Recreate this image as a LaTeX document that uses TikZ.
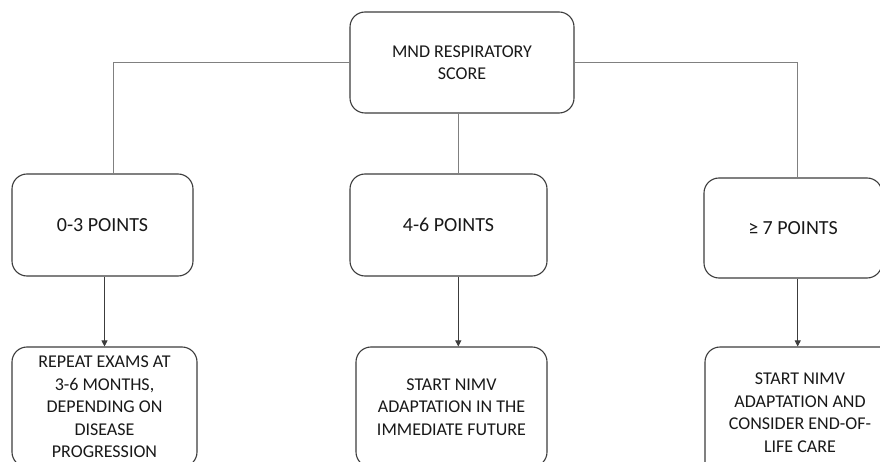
\documentclass[tikz,border=0pt]{standalone}
\usepackage{fontspec}
\setmainfont{Carlito}
\usetikzlibrary{arrows.meta,positioning,calc}
\definecolor{edge}{RGB}{60,60,60}
\definecolor{wire}{RGB}{128,128,128}
\definecolor{ink}{RGB}{25,25,25}
\begin{document}
\begin{tikzpicture}[x=1pt,y=-1pt,
  bx/.style={draw=edge,line width=1.1pt,rounded corners=15pt,align=center,inner sep=0pt,text=ink,font=\fontsize{18}{22.5}\selectfont},
  pts/.style={bx,font=\fontsize{20}{24}\selectfont},
  lnk/.style={wire,line width=0.9pt},
  arr/.style={-{Triangle[length=6pt,width=6pt]},line width=0.8pt,edge}]
\clip (0,0) rectangle (880,462);
\fill[white] (0,0) rectangle (880,462);
\node[bx,minimum width=224pt,minimum height=101pt] (top) at (462,62.5) {MND RESPIRATORY\\SCORE};
\node[pts,minimum width=181pt,minimum height=102pt] (p1) at (102.5,225) {0-3 POINTS};
\node[pts,minimum width=197pt,minimum height=102pt] (p2) at (448.5,225) {4-6 POINTS};
\node[pts,minimum width=178pt,minimum height=100pt] (p3) at (793,228) {≥ 7 POINTS};
\node[bx,minimum width=185pt,minimum height=120pt] (a1) at (104.5,407) {REPEAT EXAMS AT\\3-6 MONTHS,\\DEPENDING ON\\DISEASE\\PROGRESSION};
\node[bx,minimum width=191pt,minimum height=120pt] (a2) at (451.5,407) {START NIMV\\ADAPTATION IN THE\\IMMEDIATE FUTURE};
\node[bx,minimum width=190pt,minimum height=131pt] (a3) at (800,412.5) {START NIMV\\ADAPTATION AND\\CONSIDER END-OF-\\LIFE CARE};
% tree from the score
\draw[lnk] (top.west) -| ([xshift=10.8pt]p1.north);
\draw[lnk] ([xshift=-3.7pt]top.south) -- ([xshift=9.8pt]p2.north);
\draw[lnk] (top.east) -| ([xshift=4.7pt]p3.north);
% actions
\draw[arr] (p1.south -| a1.north) -- (a1.north);
\draw[arr] ([xshift=9.8pt]p2.south) -- ([xshift=9.8pt]p2.south |- a2.north);
\draw[arr] ([xshift=4.7pt]p3.south) -- ([xshift=4.7pt]p3.south |- a3.north);
\end{tikzpicture}
\end{document}
